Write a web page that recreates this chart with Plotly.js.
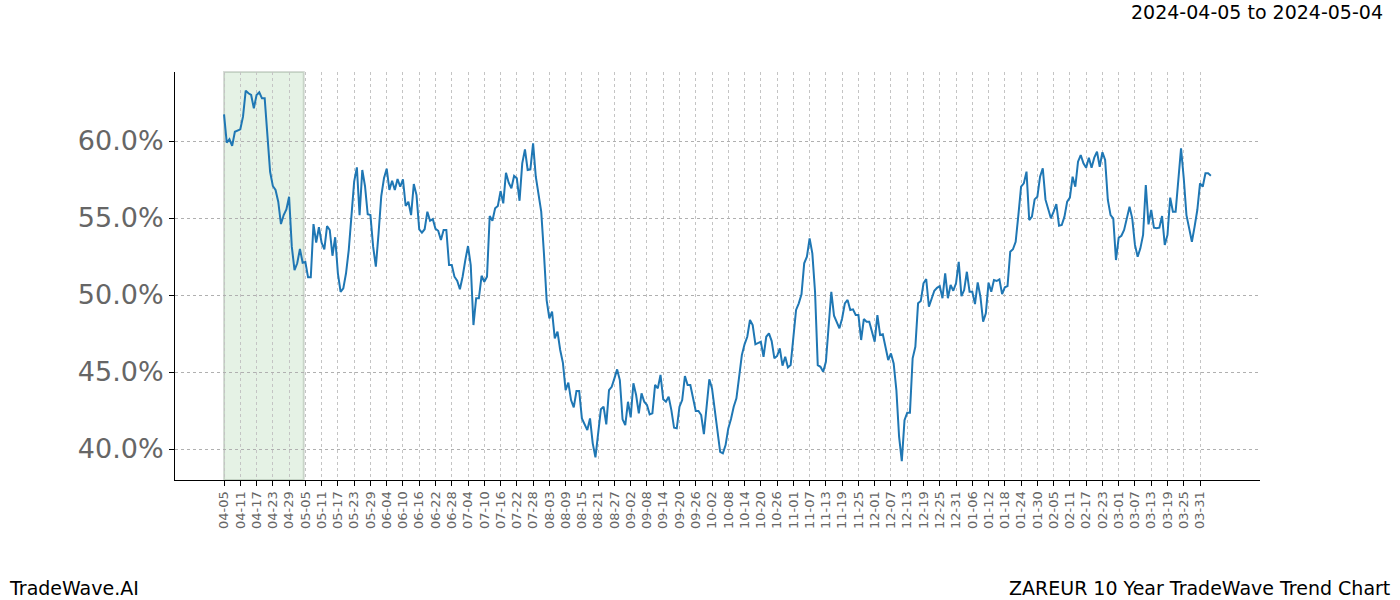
<!DOCTYPE html>
<html>
<head>
<meta charset="utf-8">
<script src="https://cdn.plot.ly/plotly-3.0.1.min.js"></script>
<style>
html, body { margin: 0; padding: 0; background: #fff; }
#chart { width: 1400px; height: 600px; }
</style>
</head>
<body>
<div id="chart"></div>
<script>
// ---- data ----
const startDate = "2024-04-05";           // first daily observation
const trendValues = [
61.73,59.89,60.11,59.68,60.6,60.7,60.76,61.58,63.27,63.1,
62.99,62.12,62.99,63.16,62.77,62.77,60.28,58.0,57.08,56.82,
56.06,54.61,55.19,55.56,56.38,53.14,51.62,52.06,52.99,52.1,
52.14,51.15,51.15,54.61,53.4,54.4,53.4,52.97,54.48,54.22,
52.55,53.75,51.41,50.21,50.43,51.41,52.92,55.3,57.36,58.29,
55.19,58.12,57.08,55.24,55.19,53.14,51.84,54.0,56.43,57.58,
58.2,56.82,57.42,56.82,57.53,57.03,57.51,55.78,56.06,55.19,
57.21,56.49,54.27,54.05,54.27,55.41,54.82,54.93,54.3,54.17,
53.57,54.22,54.22,51.95,51.95,51.19,50.93,50.37,51.19,52.27,
53.18,51.95,48.05,49.79,49.79,51.25,50.86,51.19,55.13,54.82,
55.63,55.78,56.75,55.95,57.94,57.29,56.93,57.73,57.58,56.12,
58.55,59.46,58.12,58.16,59.85,57.68,56.38,55.41,52.71,49.67,
48.49,48.92,47.19,47.62,46.43,45.6,43.83,44.31,43.18,42.71,
43.77,43.77,41.99,41.6,41.23,41.99,40.37,39.46,41.02,42.58,
42.75,41.6,43.83,44.04,44.59,45.17,44.48,41.93,41.56,43.07,
42.06,44.27,43.51,42.32,43.62,43.07,42.86,42.25,42.32,44.16,
43.94,44.81,43.23,43.07,43.4,42.53,41.38,41.34,42.75,43.18,
44.74,44.16,44.16,43.29,42.47,42.47,42.21,40.97,42.97,44.53,
43.94,42.5,40.91,39.82,39.72,40.26,41.34,41.95,42.75,43.29,
44.69,46.1,46.8,47.29,48.38,48.05,46.8,46.86,46.97,45.99,
47.29,47.51,47.01,45.89,46.04,46.54,45.41,45.99,45.3,45.45,
47.4,49.03,49.46,50.05,52.06,52.49,53.68,52.71,50.21,45.45,
45.34,45.02,45.67,48.05,50.21,48.66,48.2,47.84,48.49,49.46,
49.68,49.03,49.07,48.7,48.7,47.08,48.44,48.27,48.27,47.62,
46.97,48.7,47.4,47.45,46.64,45.78,46.21,45.56,43.83,40.8,
39.22,41.88,42.36,42.36,45.89,46.64,49.46,49.61,50.76,51.04,
49.24,49.72,50.28,50.47,50.58,49.79,51.41,49.79,50.65,50.28,
50.76,52.16,49.93,50.32,51.51,50.21,50.21,49.41,50.82,49.89,
48.27,48.81,50.8,50.21,50.97,50.91,51.02,50.06,50.5,50.58,
52.81,52.97,53.46,55.19,57.03,57.25,58.01,54.87,55.09,56.21,
56.38,57.68,58.23,56.19,55.57,54.98,55.41,55.91,54.5,54.55,
55.09,56.06,56.32,57.68,57.03,58.66,59.09,58.55,58.27,58.92,
58.27,58.92,59.31,58.33,59.27,58.77,56.17,55.19,54.98,52.27,
53.72,53.85,54.22,55.09,55.73,54.98,53.25,52.49,53.03,53.9,
57.14,54.59,55.52,54.37,54.33,54.37,55.13,53.25,53.9,56.32,
55.41,55.41,57.47,59.53,57.58,55.19,54.33,53.46,54.44,55.52,
57.25,57.03,57.9,57.9,57.75
];
const tickLabels = [
"04-05","04-11","04-17","04-23","04-29","05-05","05-11","05-17","05-23","05-29",
"06-04","06-10","06-16","06-22","06-28","07-04","07-10","07-16","07-22","07-28",
"08-03","08-09","08-15","08-21","08-27","09-02","09-08","09-14","09-20","09-26",
"10-02","10-08","10-14","10-20","10-26","11-01","11-07","11-13","11-19","11-25",
"12-01","12-07","12-13","12-19","12-25","12-31","01-06","01-12","01-18","01-24",
"01-30","02-05","02-11","02-17","02-23","03-01","03-07","03-13","03-19","03-25","03-31"
];
const yTicks = [40, 45, 50, 55, 60];
const yTickLabels = ["40.0%", "45.0%", "50.0%", "55.0%", "60.0%"];
const highlightStart = "2024-04-05";
const highlightEnd = "2024-05-04";
const rangeText = "2024-04-05 to 2024-05-04";
const brandText = "TradeWave.AI";
const chartTitle = "ZAREUR 10 Year TradeWave Trend Chart";

// ---- build ----
const t0 = Date.parse(startDate + "T00:00:00Z");
const dates = trendValues.map((_, i) => new Date(t0 + i * 86400000).toISOString().slice(0, 10));
const tickVals = tickLabels.map(l => (parseInt(l.slice(0, 2), 10) >= 4 ? "2024-" : "2025-") + l);

const font = "DejaVu Sans, Liberation Sans, sans-serif";

const trace = {
  x: dates,
  y: trendValues,
  type: "scatter",
  mode: "lines",
  line: { color: "#1f77b4", width: 2 },
  hoverinfo: "skip"
};

const layout = {
  width: 1400,
  height: 600,
  margin: { l: 175, r: 140, t: 72, b: 120 },
  paper_bgcolor: "#ffffff",
  plot_bgcolor: "#ffffff",
  showlegend: false,
  font: { family: font, color: "#333" },
  xaxis: {
    type: "date",
    range: ["2024-03-17 22:00", "2025-04-22 03:00"],
    tickmode: "array",
    tickvals: tickVals,
    ticktext: tickLabels,
    tickangle: -90,
    tickfont: { family: font, size: 13, color: "#666" },
    ticks: "outside",
    ticklen: 5,
    tickcolor: "#000",
    showline: true,
    linecolor: "#000",
    linewidth: 1,
    mirror: false,
    showgrid: true,
    gridcolor: "#c4c4c4",
    gridwidth: 1,
    griddash: "dot",
    zeroline: false
  },
  yaxis: {
    range: [37.99, 64.48],
    tickmode: "array",
    tickvals: yTicks,
    ticktext: yTickLabels,
    tickfont: { family: font, size: 27, color: "#666" },
    ticks: "outside",
    ticklen: 5,
    tickcolor: "#000",
    showline: true,
    linecolor: "#000",
    linewidth: 1,
    mirror: false,
    showgrid: true,
    gridcolor: "#b0b0b0",
    gridwidth: 1,
    griddash: "dot",
    zeroline: false
  },
  shapes: [{
    type: "rect",
    xref: "x",
    yref: "paper",
    x0: highlightStart,
    x1: highlightEnd + " 10:00",
    y0: 0,
    y1: 1,
    fillcolor: "rgba(0,128,0,0.10)",
    line: { color: "rgba(120,140,120,0.3)", width: 2 },
    layer: "below"
  }],
  annotations: [
    {
      text: rangeText, xref: "paper", yref: "paper",
      x: 1.1152, y: 1.147, xanchor: "right", yanchor: "middle",
      showarrow: false, font: { family: font, size: 19, color: "#000" }
    },
    {
      text: brandText, xref: "paper", yref: "paper",
      x: -0.1548, y: -0.2647, xanchor: "left", yanchor: "middle",
      showarrow: false, font: { family: font, size: 19, color: "#000" }
    },
    {
      text: chartTitle, xref: "paper", yref: "paper",
      x: 1.1217, y: -0.2647, xanchor: "right", yanchor: "middle",
      showarrow: false, font: { family: font, size: 19, color: "#000" }
    }
  ]
};

Plotly.newPlot("chart", [trace], layout, { displayModeBar: false, staticPlot: true });
</script>
</body>
</html>
